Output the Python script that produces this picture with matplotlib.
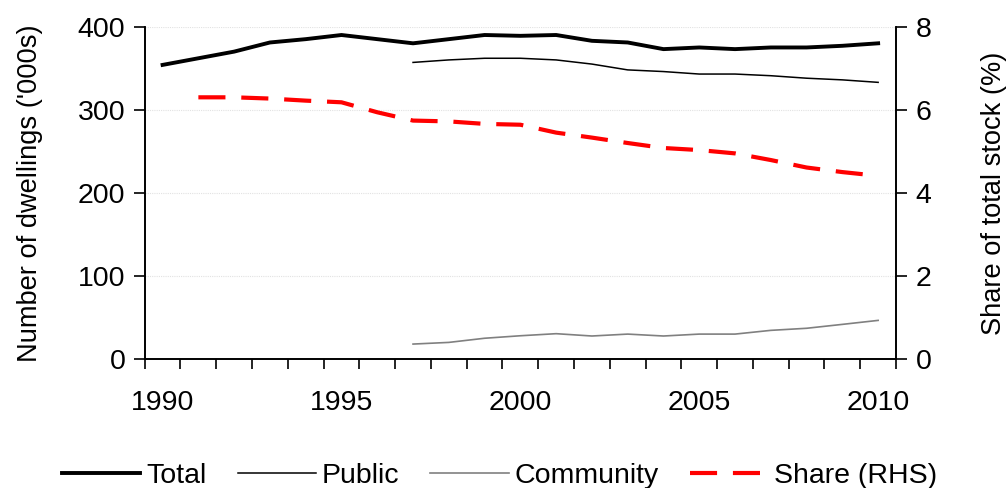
import matplotlib.pyplot as plt
import numpy as np

plt.rcParams['font.family'] = ['Liberation Sans', 'DejaVu Sans']

years = np.arange(1990, 2011)
total = [354, 362, 370, 381, 385, 390, 385, 380, 385, 390, 389, 390, 383, 381, 373, 375, 373, 375, 375, 377, 380]
pub_years = np.arange(1997, 2011)
public = [357, 360, 362, 362, 360, 355, 348, 346, 343, 343, 341, 338, 336, 333]
community = [18, 20, 25, 28, 30.5, 27.7, 30, 27.7, 30, 30, 34.5, 37, 41.7, 46.5]
share_years = np.arange(1991, 2011)
share = [6.3, 6.3, 6.27, 6.22, 6.18, 5.94, 5.74, 5.72, 5.66, 5.64, 5.45, 5.33, 5.2, 5.08, 5.03, 4.95, 4.79, 4.61, 4.5, 4.41]

fs = 20.5
fig = plt.figure(figsize=(10.07, 4.88), dpi=100)
ax = fig.add_axes([0.1437, 0.2643, 0.8898 - 0.1437, 0.9453 - 0.2643])
ax2 = ax.twinx()

for y in [100, 200, 300, 400]:
    ax.axhline(y, color='#e2e2e2', lw=0.8, ls=(0, (1, 1)), zorder=0)

l1, = ax.plot(years, total, color='black', lw=2.8, label='Total')
l2, = ax.plot(pub_years, public, color='black', lw=1.1, label='Public')
l3, = ax.plot(pub_years, community, color='#808080', lw=1.2, label='Community')
l4, = ax2.plot(share_years, share, color='#ff0000', lw=3, dashes=(6.5, 3.8), label='Share (RHS)')

ax.set_xlim(1989.5, 2010.5)
ax.set_ylim(0, 400)
ax2.set_ylim(0, 8)
ax.set_yticks([0, 100, 200, 300, 400])
ax2.set_yticks([0, 2, 4, 6, 8])
ax.set_xticks([1990, 1995, 2000, 2005, 2010])
ax.set_xticks(np.arange(1989.5, 2011, 1), minor=True)
ax.tick_params(axis='x', which='major', length=0, pad=22, labelsize=fs)
ax.tick_params(axis='x', which='minor', length=7, width=1.2, direction='out')
ax.tick_params(axis='y', length=8, width=1.2, direction='out', labelsize=fs, pad=6)
ax2.tick_params(axis='y', length=8, width=1.2, direction='out', labelsize=fs, pad=6)

for a in (ax, ax2):
    a.spines['top'].set_visible(False)
    for s in a.spines.values():
        s.set_linewidth(1.2)

ax.set_ylabel("Number of dwellings ('000s)", fontsize=19.6, labelpad=25)
ax2.set_ylabel('Share of total stock (%)', fontsize=19.6, labelpad=36)

fig.legend(handles=[l1, l2, l3, l4], loc='lower center', bbox_to_anchor=(0.496, -0.055),
           ncol=4, frameon=False, fontsize=fs, handlelength=2.75, handletextpad=0.2,
           columnspacing=1.1)

fig.savefig('out.png', dpi=100)
